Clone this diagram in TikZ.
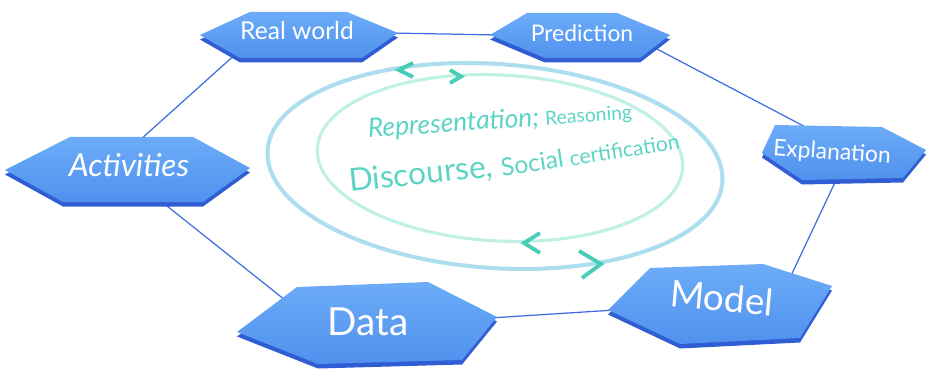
\documentclass[tikz,border=0pt]{standalone}
\usepackage{fontspec}
\setmainfont{Lato}
\usepackage{tikz}
\usetikzlibrary{positioning}
\usetikzlibrary{calc}

\definecolor{hexblue}{RGB}{80,145,238}
\definecolor{hexlight}{RGB}{108,172,248}
\definecolor{hexdark}{RGB}{48,92,212}
\definecolor{linkblue}{RGB}{60,110,225}
\definecolor{ringblue}{RGB}{172,222,240}
\definecolor{ringgreen}{RGB}{192,240,230}
\definecolor{tealtext}{RGB}{92,212,196}
\definecolor{tealarrow}{RGB}{72,205,182}

\tikzset{
  hexface/.style={top color=hexlight,bottom color=hexblue},
  hexside/.style={fill=hexdark},
  link/.style={linkblue,line width=0.7pt},
  hexlabel/.style={text=white,inner sep=0pt},
  ringtext/.style={text=tealtext,inner sep=0pt},
  chevron/.style={tealarrow,line width=2.2pt},
}

% flat hexagon with a darker rim below it
\newcommand{\hexbox}[6]{%
  \fill[hexside,shift={(0,4.5)}] #1 -- #2 -- #3 -- #4 -- #5 -- #6 -- cycle;
  \shade[hexface] #1 -- #2 -- #3 -- #4 -- #5 -- #6 -- cycle;}
\newcommand{\fsz}[1]{\fontsize{#1}{#1}\selectfont}

\begin{document}
\begin{tikzpicture}[x=0.02cm,y=-0.02cm]
\useasboundingbox (0,0) rectangle (928,371);

\coordinate (act-n) at (140,140);
\coordinate (act-s) at (157,198);
\coordinate (rw-sw) at (238,52);
\coordinate (rw-e) at (390,33);
\coordinate (pr-w) at (498,35);
\coordinate (pr-se) at (655,48);
\coordinate (ex-nw) at (815,132);
\coordinate (ex-s) at (838,176);
\coordinate (mo-ne) at (788,282);
\coordinate (mo-w) at (615,310);
\coordinate (da-e) at (490,318);
\coordinate (da-nw) at (285,300);

\draw[link] (act-n) -- (rw-sw);
\draw[link] (rw-e) -- (pr-w);
\draw[link] (pr-se) -- (ex-nw);
\draw[link] (ex-s) -- (mo-ne);
\draw[link] (mo-w) -- (da-e);
\draw[link] (da-nw) -- (act-s);

\draw[ringblue,line width=2.3pt,rotate around={-4:(495,166)}] (495,166) ellipse [x radius=4.56cm, y radius=2.04cm];
\draw[ringgreen,line width=1.8pt,rotate around={-3:(500,158)}] (500,158) ellipse [x radius=3.66cm, y radius=1.66cm];

\draw[chevron] (413,63) -- (399,70) -- (413,77);
\draw[chevron] (450,70) -- (461,76.5) -- (450,83);
\draw[chevron] (540,233) -- (524,243) -- (540,253);
\draw[chevron] (579,251) -- (601,264) -- (582,278);

\node[ringtext,rotate=4] (rep) at (500,121) {\fsz{15}\itshape Representation; \fsz{11}\upshape Reasoning};
\node[ringtext,rotate=6] (disc) at (421,175) {\fsz{18}Discourse,};
\node[ringtext,rotate=9] (soc) at (590,154) {\fsz{14}Social \fsz{12}certification};

\hexbox{(200,35)}{(250,12)}{(347,12)}{(398,33)}{(362,58)}{(240,58)}
\hexbox{(490,35)}{(527,13)}{(617,13)}{(670,35)}{(640,58)}{(545,58)}
\hexbox{(5,170)}{(70,137)}{(193,137)}{(250,168)}{(203,202)}{(63,202)}
\hexbox{(762,153)}{(775,125)}{(882,127)}{(926,150)}{(903,178)}{(802,180)}
\hexbox{(237,332)}{(297,287)}{(428,282)}{(497,317)}{(462,360)}{(318,364)}
\hexbox{(608,310)}{(650,268)}{(763,264)}{(832,286)}{(800,338)}{(680,344)}

\node[hexlabel] (rw) at (297,31) {\fsz{14}Real world};
\node[hexlabel] (pr) at (582,33) {\fsz{13}Prediction};
\node[hexlabel] (act) at (129,165) {\fsz{18}\itshape Activities};
\node[hexlabel,rotate=-4] (ex) at (832,153) {\fsz{13}Explanation};
\node[hexlabel] (da) at (368,322) {\fsz{22}Data};
\node[hexlabel,rotate=-5] (mo) at (722,298) {\fsz{21}Model};
\end{tikzpicture}
\end{document}
